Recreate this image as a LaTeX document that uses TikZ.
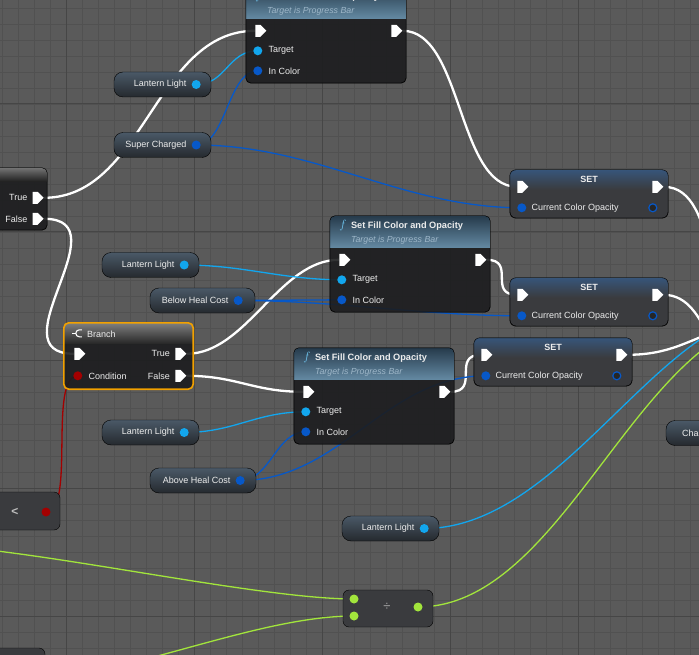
\documentclass[tikz,border=0pt]{standalone}
\usepackage{fontspec}
\setmainfont{Liberation Sans}
\usepackage{tikz}
\usetikzlibrary{shapes.symbols, positioning, calc, arrows.meta}
\definecolor{bpbg}{HTML}{5A5A5A}
\definecolor{bpminor}{HTML}{515151}
\definecolor{bpmajor}{HTML}{464646}
\definecolor{bpbody}{HTML}{1C1D1F}
\definecolor{bpset}{HTML}{3A3B3E}
\definecolor{bpsethead}{HTML}{37557A}
\definecolor{bpfhtop}{HTML}{263A4B}
\definecolor{bpfhbot}{HTML}{648AA3}
\definecolor{bpvartop}{HTML}{4A5967}
\definecolor{bpvarbot}{HTML}{25292E}
\definecolor{bptext}{HTML}{EDEDED}
\definecolor{bpsub}{HTML}{9DB6C8}
\definecolor{bpobj}{HTML}{12A6EE}
\definecolor{bpcol}{HTML}{0758C8}
\definecolor{bpbool}{HTML}{A30000}
\definecolor{bpfloat}{HTML}{A2E53C}
\definecolor{bporange}{HTML}{F2A100}
\pgfdeclarelayer{grid}
\pgfdeclarelayer{wires}
\pgfsetlayers{grid,wires,main}

\begin{document}
\begin{tikzpicture}[
  x=1pt, y=-1pt,
  font=\fontsize{9}{10}\selectfont,
  funcnode/.style={rectangle, rounded corners=5pt, draw=black,
    fill=bpbody, fill opacity=0.9,
    minimum width=160pt, minimum height=96pt, inner sep=0pt},
  setnode/.style={rectangle, rounded corners=6pt, draw=black,
    fill=bpset, minimum width=158pt, minimum height=48pt, inner sep=0pt},
  varnode/.style={rectangle, rounded corners=9pt, draw=black,
    top color=bpvartop, bottom color=bpvarbot,
    minimum width=97pt, minimum height=25pt, inner sep=0pt},
  mathnode/.style={rectangle, rounded corners=6pt, draw=black,
    fill=bpset, inner sep=0pt},
  execin/.style={signal, signal to=east, fill=white,
    minimum width=11pt, minimum height=12pt, inner sep=0pt},
  objpin/.style={circle, fill=bpobj, minimum size=9pt, inner sep=0pt},
  colpin/.style={circle, fill=bpcol, minimum size=9pt, inner sep=0pt},
  boolpin/.style={circle, fill=bpbool, minimum size=9pt, inner sep=0pt},
  floatpin/.style={circle, fill=bpfloat, minimum size=9pt, inner sep=0pt},
  outpin/.style={circle, draw=bpcol, fill=black!85, line width=1.2pt,
    minimum size=8pt, inner sep=0pt},
  pinlbl/.style={text=bptext, inner sep=0pt},
  functtl/.style={text=bptext, font=\fontsize{9.2}{10}\selectfont\bfseries,
    anchor=west, inner sep=0pt},
  funcsub/.style={text=bpsub, font=\fontsize{8.8}{10}\selectfont\itshape,
    anchor=west, inner sep=0pt},
  execwire/.style={white, line width=2.3pt},
  objwire/.style={bpobj, line width=1.3pt},
  colwire/.style={bpcol, line width=1.3pt},
  boolwire/.style={bpbool, line width=1.3pt},
  floatwire/.style={bpfloat, line width=1.3pt}
]
\useasboundingbox (0,0) rectangle (699,655);

% Grid
\begin{pgfonlayer}{grid}
  \fill[bpbg] (0,0) rectangle (699,655);
  \foreach \k in {0,16,...,704} {
    \draw[bpminor, line width=0.7pt] (\k+2,0) -- (\k+2,655);
    \draw[bpminor, line width=0.7pt] (0,\k+8) -- (699,\k+8);
  }
  \foreach \k in {0,128,...,640} {
    \draw[bpmajor, line width=1pt] (\k+66,0) -- (\k+66,655);
    \draw[bpmajor, line width=1pt] (0,\k+104) -- (699,\k+104);
  }
\end{pgfonlayer}

% Left: cut-off branch
\node[funcnode, minimum width=107pt, minimum height=62pt] (br0) at (-6.5,199) {};
\node[execin] (br0t) at ($(br0.north east)+(-12,30)$) {};
\node[execin] (br0f) at ($(br0.north east)+(-12,51)$) {};
\node[pinlbl, left=5pt of br0t] (br0tl) {True};
\node[pinlbl, left=5pt of br0f] (br0fl) {False};

% Top: first fill colour
\node[funcnode] (sf1) at (326,35) {};
\node[execin] (sf1in) at ($(sf1.north west)+(12,44)$) {};
\node[execin] (sf1out) at ($(sf1.north west)+(148,44)$) {};
\node[objpin] (sf1t) at ($(sf1.north west)+(12,64)$) {};
\node[colpin] (sf1c) at ($(sf1.north west)+(12,84)$) {};
\node[pinlbl, right=6pt of sf1t] (sf1tl) {Target};
\node[pinlbl, right=6pt of sf1c] (sf1cl) {In Color};

\node[varnode] (ll1) at (162.5,84.5) {};
\node[objpin] (ll1p) at ($(ll1.east)+(-15,0)$) {};
\node[pinlbl, left=5pt of ll1p] (ll1l) {Lantern Light};
\node[varnode] (sc) at (162.5,145) {};
\node[colpin] (scp) at ($(sc.east)+(-15,0)$) {};
\node[pinlbl, left=5pt of scp] (scl) {Super Charged};

% Middle: second fill colour
\node[funcnode] (sf2) at (410,264) {};
\node[execin] (sf2in) at ($(sf2.north west)+(12,44)$) {};
\node[execin] (sf2out) at ($(sf2.north west)+(148,44)$) {};
\node[objpin] (sf2t) at ($(sf2.north west)+(12,64)$) {};
\node[colpin] (sf2c) at ($(sf2.north west)+(12,84)$) {};
\node[pinlbl, right=6pt of sf2t] (sf2tl) {Target};
\node[pinlbl, right=6pt of sf2c] (sf2cl) {In Color};

\node[varnode] (ll2) at (150.5,265) {};
\node[objpin] (ll2p) at ($(ll2.east)+(-15,0)$) {};
\node[pinlbl, left=5pt of ll2p] (ll2l) {Lantern Light};
\node[varnode, minimum width=105pt] (bhc) at (202.5,300.5) {};
\node[colpin] (bhcp) at ($(bhc.east)+(-17,0)$) {};
\node[pinlbl, left=5pt of bhcp] (bhcl) {Below Heal Cost};

% Branch
\node[funcnode, minimum width=129pt, minimum height=66pt] (br) at (128.5,356) {};
\node[execin] (brin) at ($(br.north west)+(13,31)$) {};
\node[execin] (brt) at ($(br.north west)+(114,31)$) {};
\node[boolpin] (brc) at ($(br.north west)+(14,53)$) {};
\node[execin] (brf) at ($(br.north west)+(114,53)$) {};
\node[pinlbl, left=5pt of brt] (brtl) {True};
\node[pinlbl, right=6pt of brc] (brcl) {Condition};
\node[pinlbl, left=5pt of brf] (brfl) {False};

% Lower: third fill colour
\node[funcnode] (sf3) at (374,396) {};
\node[execin] (sf3in) at ($(sf3.north west)+(12,44)$) {};
\node[execin] (sf3out) at ($(sf3.north west)+(148,44)$) {};
\node[objpin] (sf3t) at ($(sf3.north west)+(12,64)$) {};
\node[colpin] (sf3c) at ($(sf3.north west)+(12,84)$) {};
\node[pinlbl, right=6pt of sf3t] (sf3tl) {Target};
\node[pinlbl, right=6pt of sf3c] (sf3cl) {In Color};

\node[varnode] (ll3) at (150.5,432.5) {};
\node[objpin] (ll3p) at ($(ll3.east)+(-15,0)$) {};
\node[pinlbl, left=5pt of ll3p] (ll3l) {Lantern Light};
\node[varnode, minimum width=106pt] (ahc) at (203,480.5) {};
\node[colpin] (ahcp) at ($(ahc.east)+(-16,0)$) {};
\node[pinlbl, left=5pt of ahcp] (ahcl) {Above Heal Cost};

% SET nodes
\node[setnode] (set1) at (589,194) {};
\node[setnode] (set2) at (589,302) {};
\node[setnode] (set3) at (553,362) {};
\foreach \n in {set1,set2,set3} {
  \begin{scope}
    \clip[rounded corners=6pt] (\n.north west) rectangle (\n.south east);
    \shade[top color=bpsethead, bottom color=bpset]
      (\n.north west) rectangle ($(\n.north east)+(0,20)$);
  \end{scope}
  \draw[black, rounded corners=6pt] (\n.north west) rectangle (\n.south east);
  \node[text=bptext, font=\fontsize{9}{10}\selectfont\bfseries]
    (\n ttl) at ($(\n.north)+(0,10)$) {SET};
  \node[execin] (\n in) at ($(\n.north west)+(10,17)$) {};
  \node[execin] (\n out) at ($(\n.north west)+(145,17)$) {};
  \node[colpin] (\n v) at ($(\n.north west)+(12,38)$) {};
  \node[outpin] (\n o) at ($(\n.north west)+(143,38)$) {};
  \node[pinlbl, right=5pt of \n v] (\n vl) {Current Color Opacity};
}

% Headers of the function nodes
\foreach \n in {sf1,sf2,sf3} {
  \begin{scope}
    \clip[rounded corners=5pt] (\n.north west) rectangle (\n.south east);
    \shade[top color=bpfhtop, bottom color=bpfhbot]
      (\n.north west) rectangle ($(\n.north east)+(0,32)$);
  \end{scope}
  \draw[black, rounded corners=5pt] (\n.north west) rectangle (\n.south east);
  \node[text=bpobj!60!white, font=\fontsize{12}{12}\selectfont, inner sep=0pt]
    (\n ico) at ($(\n.north west)+(13,10)$) {$f$};
  \node[functtl] (\n ttl) at ($(\n.north west)+(21,10)$) {Set Fill Color and Opacity};
  \node[funcsub] (\n sub) at ($(\n.north west)+(21,24)$) {Target is Progress Bar};
}

% Branch headers
\begin{scope}
  \clip[rounded corners=5pt] (br0.north west) rectangle (br0.south east);
  \shade[top color=black!55, bottom color=black!88]
    (br0.north west) rectangle ($(br0.north east)+(0,14)$);
\end{scope}
\draw[black, rounded corners=5pt] (br0.north west) rectangle (br0.south east);
\begin{scope}
  \clip[rounded corners=5pt] (br.north west) rectangle (br.south east);
  \shade[top color=black!50, bottom color=black!85]
    (br.north west) rectangle ($(br.north east)+(0,21)$);
\end{scope}
\draw[bporange, line width=1.6pt, rounded corners=5pt]
  (br.north west) rectangle (br.south east);
\draw[white, line width=1.1pt]
  ($(br.north west)+(18,7)$) -- ++(-2.5,0) arc (270:90:3.5) -- ++(2.5,0);
\draw[white, line width=1.1pt] ($(br.north west)+(8.5,10.5)$) -- ++(4,0);
\node[functtl, font=\fontsize{9}{10}\selectfont] (brttl) at ($(br.north west)+(23,11)$) {Branch};

% Lower right
\node[varnode] (ll4) at (390.5,528.5) {};
\node[objpin] (ll4p) at ($(ll4.east)+(-15,0)$) {};
\node[pinlbl, left=5pt of ll4p] (ll4l) {Lantern Light};
\node[varnode, minimum width=80pt] (cha) at (706,433) {};
\node[pinlbl, anchor=west] (chal) at (682,433) {Cha};

\node[mathnode, minimum width=70pt, minimum height=38pt] (lt) at (25,511) {};
\node[text=black!25, font=\fontsize{12}{12}\selectfont\bfseries] (ltl) at (15,512) {<};
\node[boolpin] (ltp) at (46,512) {};

\node[mathnode, minimum width=90pt, minimum height=37pt] (dv) at (388,608.5) {};
\node[text=black!35, font=\fontsize{13}{13}\selectfont] (dvl) at (387,607) {÷};
\node[floatpin] (dva) at (354,599) {};
\node[floatpin] (dvb) at (354,616) {};
\node[floatpin] (dvo) at (418,607) {};

\node[mathnode, minimum width=65pt, minimum height=40pt] (bl) at (12.5,668) {};

% Off-screen ends
\coordinate (e1) at (760,330);
\coordinate (e2) at (760,390);
\coordinate (e3) at (760,325);
\coordinate (e4) at (780,310);
\coordinate (e5) at (790,315);
\coordinate (g1) at (-80,545);
\coordinate (g2) at (20,680);

% Wires
\begin{pgfonlayer}{wires}
  \draw[execwire] (br0t.east) .. controls +(100,0) and +(-100,0) .. (sf1in.west);
  \draw[execwire] (br0f.east) .. controls +(80,0) and +(-80,0) .. (brin.west);
  \draw[execwire] (sf1out.east) .. controls +(60,0) and +(-60,0) .. (set1in.west);
  \draw[execwire] (set1out.east) .. controls +(60,0) and +(-60,0) .. (e1);
  \draw[execwire] (brt.east) .. controls +(60,0) and +(-60,0) .. (sf2in.west);
  \draw[execwire] (brf.east) .. controls +(50,0) and +(-50,0) .. (sf3in.west);
  \draw[execwire] (sf2out.east) .. controls +(30,0) and +(-30,0) .. (set2in.west);
  \draw[execwire] (set2out.east) .. controls +(50,0) and +(-50,0) .. (e2);
  \draw[execwire] (sf3out.east) .. controls +(30,0) and +(-30,0) .. (set3in.west);
  \draw[execwire] (set3out.east) .. controls +(60,0) and +(-60,0) .. (e3);

  \draw[objwire] (ll1p.center) .. controls +(30,0) and +(-30,0) .. (sf1t.center);
  \draw[objwire] (ll2p.center) .. controls +(60,0) and +(-60,0) .. (sf2t.center);
  \draw[objwire] (ll3p.center) .. controls +(50,0) and +(-50,0) .. (sf3t.center);
  \draw[objwire] (ll4p.center) .. controls +(140,0) and +(-120,0) .. (e4);

  \draw[colwire] (scp.center) .. controls +(30,0) and +(-30,0) .. (sf1c.center);
  \draw[colwire] (scp.center) .. controls +(120,0) and +(-120,0) .. (set1v.center);
  \draw[colwire] (bhcp.center) -- (sf2c.center);
  \draw[colwire] (bhcp.center) .. controls +(100,0) and +(-100,0) .. (set2v.center);
  \draw[colwire] (ahcp.center) .. controls +(30,0) and +(-30,0) .. (sf3c.center);
  \draw[colwire] (ahcp.center) .. controls +(100,0) and +(-100,0) .. (set3v.center);

  \draw[boolwire] (ltp.center) .. controls +(30,0) and +(-30,0) .. (brc.center);

  \draw[floatwire] (g1) .. controls +(100,0) and +(-100,0) .. (dva.center);
  \draw[floatwire] (g2) .. controls +(100,0) and +(-100,0) .. (dvb.center);
  \draw[floatwire] (dvo.center) .. controls +(150,0) and +(-150,0) .. (e5);
\end{pgfonlayer}
\end{tikzpicture}
\end{document}
